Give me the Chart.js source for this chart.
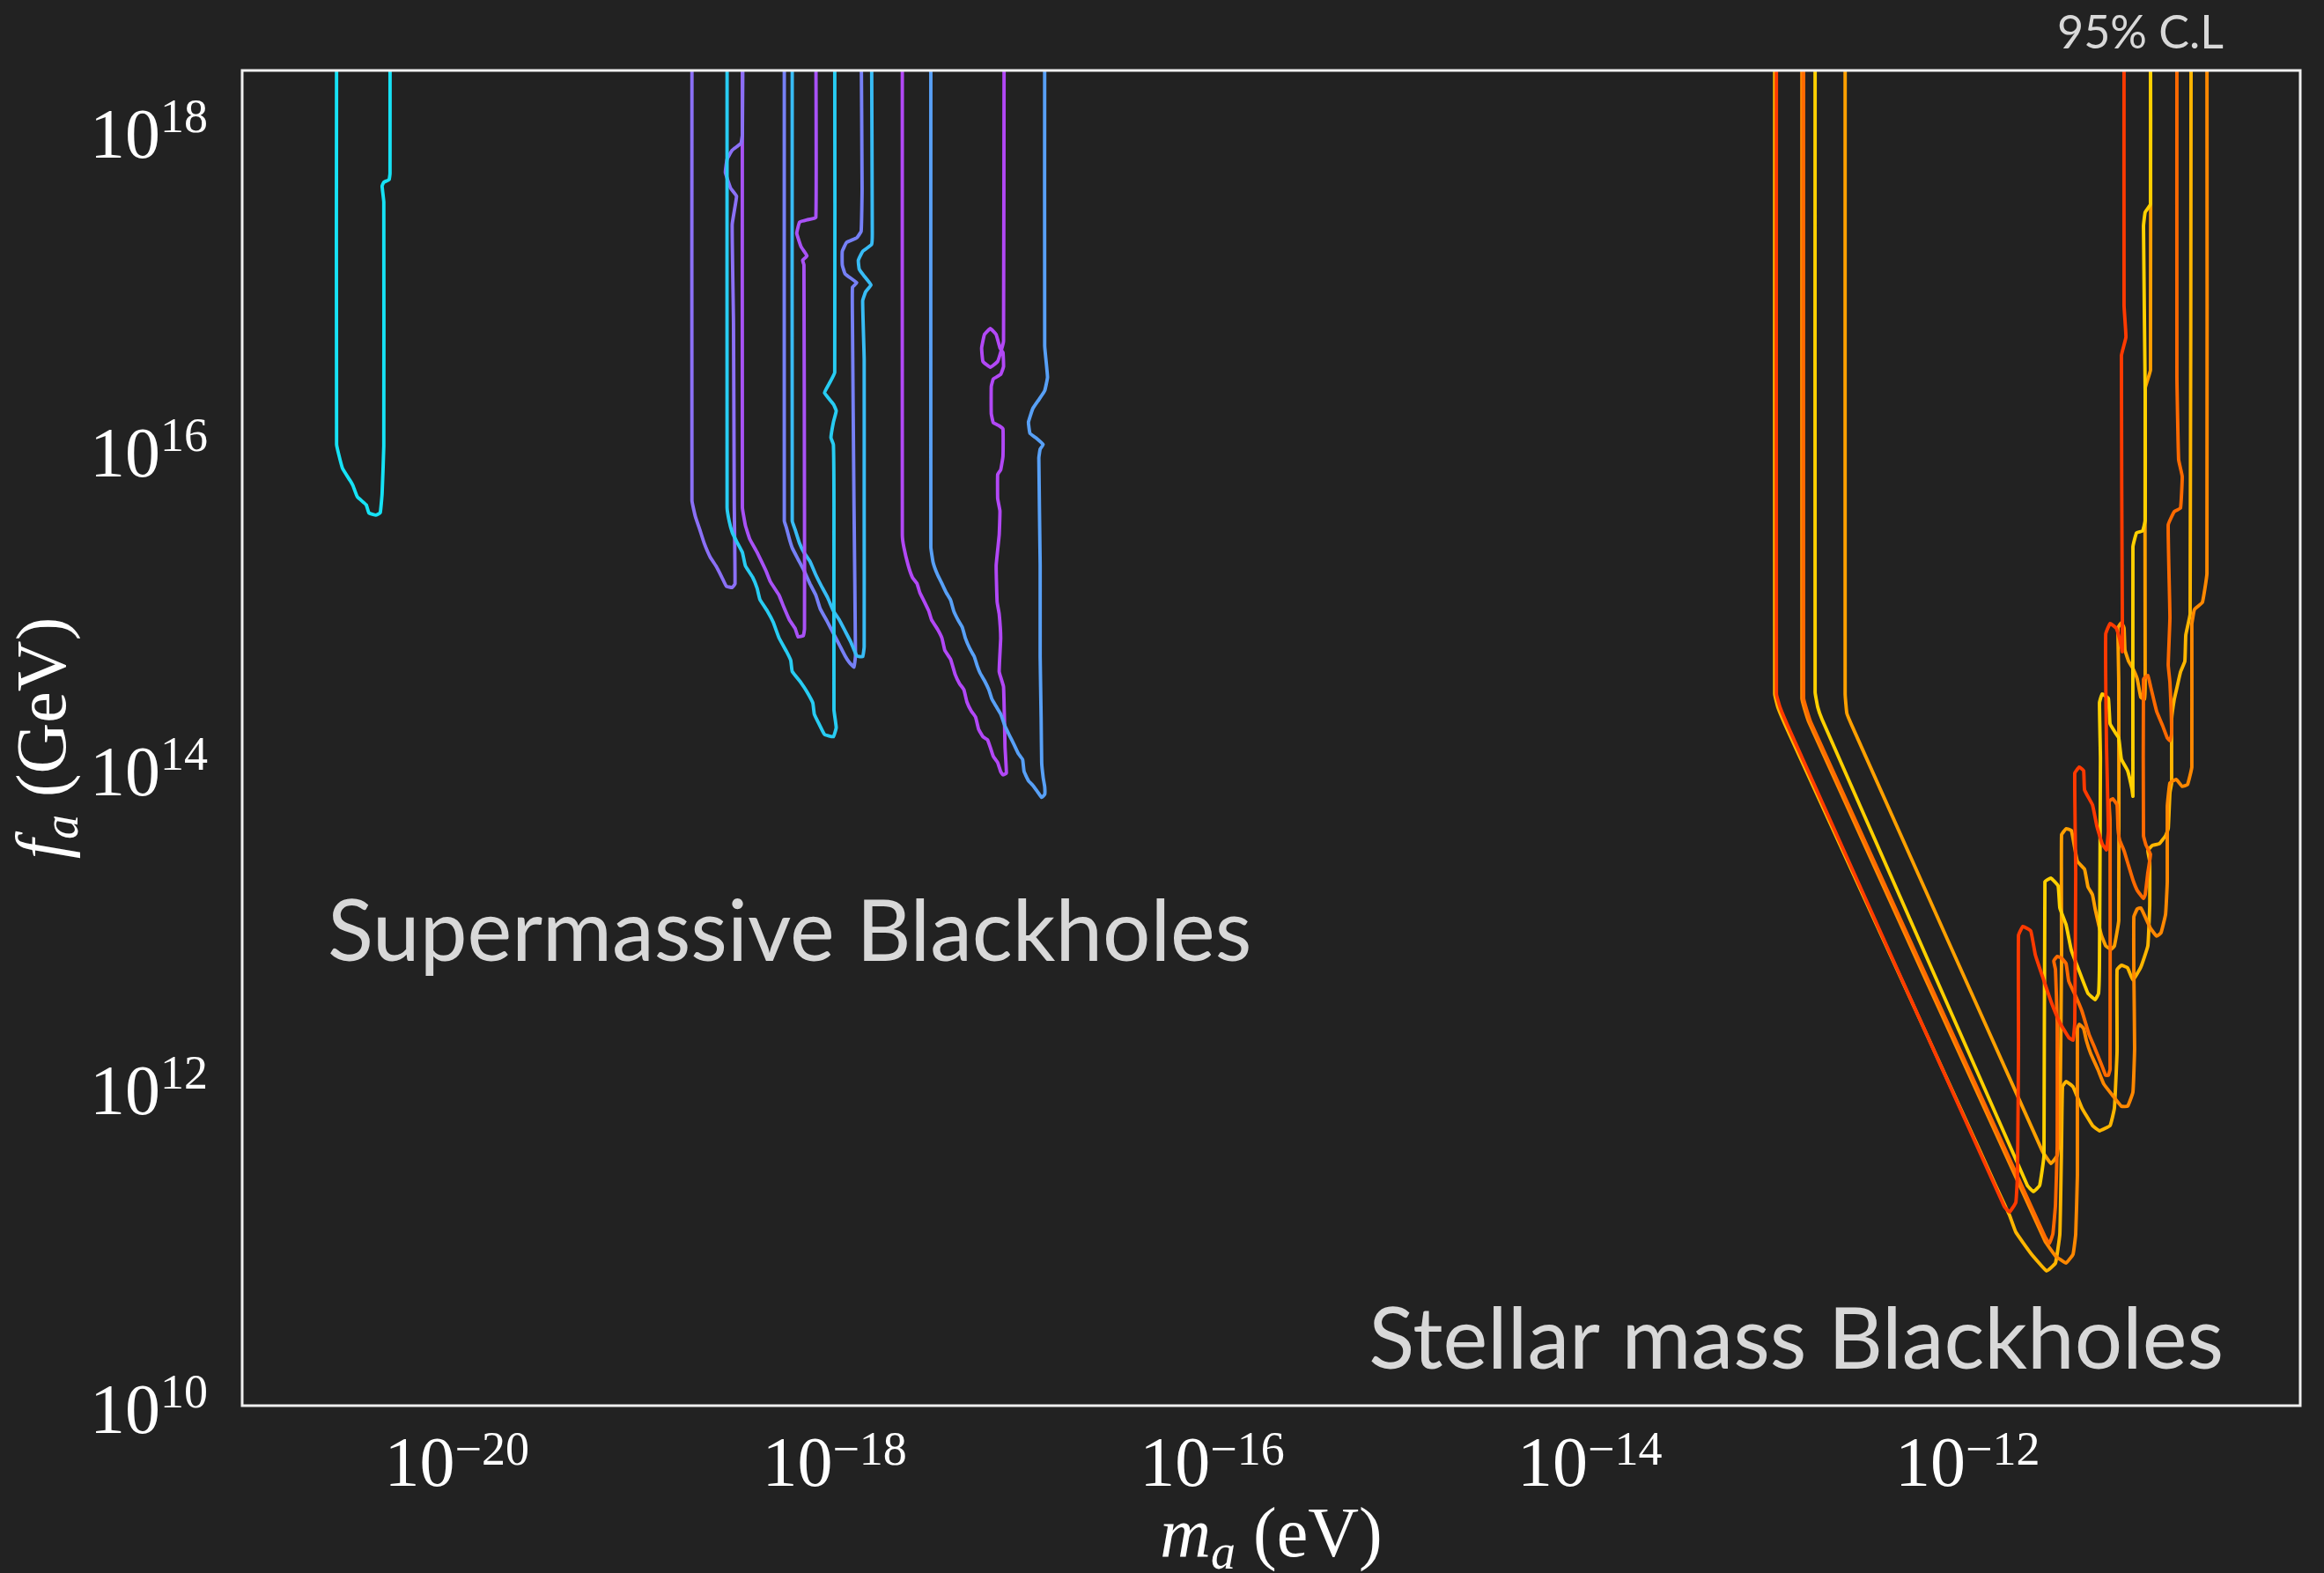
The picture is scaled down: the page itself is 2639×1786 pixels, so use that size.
<!DOCTYPE html>
<html>
<head>
<meta charset="utf-8">
<script src="https://cdn.jsdelivr.net/npm/chart.js@4.4.1/dist/chart.umd.min.js"></script>
<style>
  html, body { margin: 0; padding: 0; background: #222222; }
  canvas { display: block; }
</style>
</head>
<body>
<canvas id="chart" width="2639" height="1786"></canvas>
<script>
// tick positions, as powers of ten
const xTickExps = [-20, -18, -16, -14, -12];
const yTickExps = [10, 12, 14, 16, 18];
const xRange = [-21.137, -10.238];
const yRange = [10, 18.375];

// contour points: [log10 m_a (eV), log10 f_a (GeV)]
// supermassive black holes
const smCyan = [[-20.637, 18.6], [-20.637, 16.03], [-20.606, 15.88], [-20.564, 15.80], [-20.550, 15.77], [-20.527, 15.70], [-20.480, 15.65], [-20.466, 15.60], [-20.429, 15.586], [-20.406, 15.60], [-20.396, 15.72], [-20.387, 16.02], [-20.387, 17.55], [-20.396, 17.65], [-20.387, 17.674], [-20.359, 17.69], [-20.354, 17.73], [-20.354, 18.6]];
const smLilac = [[-18.755, 18.6], [-18.755, 15.676], [-18.737, 15.577], [-18.713, 15.493], [-18.690, 15.409], [-18.659, 15.324], [-18.628, 15.267], [-18.597, 15.197], [-18.573, 15.140], [-18.542, 15.132], [-18.527, 15.155], [-18.531, 15.663], [-18.535, 16.79], [-18.542, 17.409], [-18.519, 17.586], [-18.550, 17.636], [-18.578, 17.735], [-18.569, 17.818], [-18.542, 17.875], [-18.496, 17.917], [-18.488, 17.972], [-18.485, 18.6]];
const smPurple = [[-18.488, 18.6], [-18.488, 15.634], [-18.472, 15.521], [-18.449, 15.436], [-18.410, 15.352], [-18.364, 15.239], [-18.340, 15.169], [-18.294, 15.084], [-18.270, 15.013], [-18.239, 14.929], [-18.208, 14.873], [-18.193, 14.822], [-18.165, 14.83], [-18.159, 14.873], [-18.159, 15.6], [-18.162, 17.156], [-18.169, 17.184], [-18.146, 17.212], [-18.177, 17.269], [-18.200, 17.354], [-18.185, 17.424], [-18.146, 17.438], [-18.099, 17.452], [-18.099, 18.6]];
const smAqua = [[-18.569, 18.6], [-18.569, 15.634], [-18.558, 15.549], [-18.542, 15.479], [-18.519, 15.422], [-18.488, 15.352], [-18.472, 15.267], [-18.434, 15.197], [-18.410, 15.127], [-18.395, 15.056], [-18.356, 14.985], [-18.325, 14.915], [-18.294, 14.816], [-18.255, 14.732], [-18.232, 14.675], [-18.224, 14.605], [-18.177, 14.534], [-18.146, 14.478], [-18.115, 14.408], [-18.107, 14.337], [-18.084, 14.281], [-18.053, 14.210], [-18.006, 14.196], [-17.991, 14.253], [-18.003, 14.365], [-18.003, 15.662], [-18.006, 16.028], [-18.019, 16.071], [-18.006, 16.169], [-17.991, 16.240], [-18.006, 16.282], [-18.053, 16.353], [-18.029, 16.409], [-17.999, 16.480], [-17.999, 18.6]];
const smIndigo = [[-18.266, 18.6], [-18.266, 15.549], [-18.255, 15.507], [-18.239, 15.436], [-18.224, 15.380], [-18.193, 15.309], [-18.162, 15.239], [-18.130, 15.155], [-18.099, 15.084], [-18.076, 14.999], [-18.037, 14.915], [-18.006, 14.844], [-17.975, 14.774], [-17.944, 14.703], [-17.921, 14.661], [-17.897, 14.633], [-17.889, 14.703], [-17.897, 15.662], [-17.905, 16.790], [-17.905, 17.015], [-17.882, 17.043], [-17.944, 17.099], [-17.959, 17.156], [-17.959, 17.240], [-17.936, 17.297], [-17.882, 17.325], [-17.859, 17.367], [-17.854, 17.635], [-17.859, 18.6]];
const smSky = [[-18.224, 18.6], [-18.224, 15.549], [-18.208, 15.493], [-18.185, 15.408], [-18.162, 15.352], [-18.130, 15.296], [-18.099, 15.211], [-18.069, 15.140], [-18.037, 15.070], [-18.006, 14.985], [-17.975, 14.929], [-17.944, 14.859], [-17.913, 14.788], [-17.882, 14.703], [-17.851, 14.698], [-17.843, 14.760], [-17.843, 15.662], [-17.843, 16.564], [-17.851, 16.930], [-17.835, 16.987], [-17.807, 17.029], [-17.843, 17.085], [-17.869, 17.128], [-17.874, 17.184], [-17.851, 17.240], [-17.804, 17.283], [-17.800, 17.353], [-17.804, 18.6]];
const smViolet = [[-17.641, 18.6], [-17.641, 15.461], [-17.633, 15.385], [-17.610, 15.271], [-17.587, 15.194], [-17.563, 15.156], [-17.548, 15.099], [-17.524, 15.042], [-17.501, 14.985], [-17.486, 14.928], [-17.455, 14.871], [-17.431, 14.814], [-17.416, 14.738], [-17.385, 14.681], [-17.361, 14.586], [-17.338, 14.529], [-17.315, 14.491], [-17.299, 14.414], [-17.276, 14.357], [-17.253, 14.319], [-17.237, 14.243], [-17.214, 14.196], [-17.190, 14.177], [-17.175, 14.129], [-17.159, 14.072], [-17.136, 14.034], [-17.120, 13.977], [-17.108, 13.957], [-17.090, 13.967], [-17.097, 14.129], [-17.105, 14.509], [-17.128, 14.604], [-17.120, 14.814], [-17.128, 14.966], [-17.139, 15.042], [-17.144, 15.271], [-17.128, 15.461], [-17.124, 15.613], [-17.136, 15.689], [-17.136, 15.841], [-17.120, 15.870], [-17.108, 15.955], [-17.108, 16.127], [-17.128, 16.146], [-17.159, 16.165], [-17.170, 16.222], [-17.170, 16.393], [-17.159, 16.440], [-17.120, 16.469], [-17.105, 16.517], [-17.108, 16.606], [-17.124, 16.634], [-17.144, 16.719], [-17.175, 16.756], [-17.206, 16.719], [-17.221, 16.634], [-17.214, 16.550], [-17.175, 16.513], [-17.136, 16.550], [-17.117, 16.620], [-17.105, 16.677], [-17.102, 18.6]];
const smBlue = [[-17.490, 18.6], [-17.490, 15.385], [-17.478, 15.290], [-17.455, 15.213], [-17.431, 15.156], [-17.408, 15.099], [-17.385, 15.052], [-17.369, 14.985], [-17.346, 14.928], [-17.323, 14.881], [-17.307, 14.814], [-17.283, 14.747], [-17.260, 14.699], [-17.245, 14.643], [-17.229, 14.595], [-17.206, 14.548], [-17.183, 14.491], [-17.167, 14.433], [-17.144, 14.386], [-17.120, 14.338], [-17.097, 14.262], [-17.074, 14.205], [-17.050, 14.148], [-17.027, 14.091], [-17.004, 14.053], [-16.996, 13.977], [-16.973, 13.920], [-16.950, 13.891], [-16.926, 13.853], [-16.903, 13.815], [-16.887, 13.834], [-16.887, 13.882], [-16.895, 13.939], [-16.903, 14.034], [-16.906, 14.319], [-16.911, 14.699], [-16.911, 15.271], [-16.918, 15.944], [-16.911, 16.0], [-16.895, 16.028], [-16.934, 16.071], [-16.965, 16.099], [-16.973, 16.169], [-16.950, 16.254], [-16.918, 16.310], [-16.887, 16.366], [-16.872, 16.451], [-16.887, 16.649], [-16.887, 18.6]];

// stellar mass black holes
const stRed = [[-13.012, 18.6], [-13.012, 14.464], [-12.993, 14.381], [-12.942, 14.238], [-11.805, 11.249], [-11.777, 11.215], [-11.744, 11.276], [-11.735, 11.464], [-11.730, 12.265], [-11.730, 12.950], [-11.707, 13.006], [-11.665, 12.978], [-11.641, 12.829], [-11.604, 12.696], [-11.558, 12.536], [-11.511, 12.403], [-11.464, 12.309], [-11.441, 12.293], [-11.432, 12.403], [-11.427, 13.337], [-11.432, 13.967], [-11.408, 14.006], [-11.385, 13.983], [-11.380, 13.862], [-11.338, 13.768], [-11.315, 13.635], [-11.287, 13.525], [-11.264, 13.486], [-11.254, 13.608], [-11.264, 14.144], [-11.268, 14.840], [-11.245, 14.906], [-11.213, 14.878], [-11.194, 14.807], [-11.180, 14.729], [-11.180, 14.945], [-11.185, 16.586], [-11.161, 16.702], [-11.171, 16.901], [-11.171, 18.6]];
const stOrange = [[-12.868, 18.6], [-12.868, 14.436], [-12.853, 14.370], [-12.830, 14.287], [-11.590, 11.061], [-11.567, 11.017], [-11.548, 11.077], [-11.534, 11.260], [-11.525, 11.630], [-11.525, 12.403], [-11.534, 12.735], [-11.543, 12.790], [-11.525, 12.818], [-11.502, 12.807], [-11.478, 12.773], [-11.464, 12.663], [-11.427, 12.569], [-11.394, 12.475], [-11.357, 12.331], [-11.324, 12.238], [-11.292, 12.144], [-11.268, 12.072], [-11.254, 12.072], [-11.245, 12.110], [-11.245, 13.674], [-11.250, 13.790], [-11.231, 13.807], [-11.208, 13.768], [-11.203, 13.619], [-11.194, 13.547], [-11.171, 13.481], [-11.147, 13.387], [-11.124, 13.298], [-11.101, 13.232], [-11.068, 13.182], [-11.059, 13.204], [-11.045, 13.343], [-11.031, 13.459], [-11.054, 13.514], [-11.068, 13.575], [-11.068, 14.558], [-11.045, 14.580], [-11.031, 14.514], [-11.012, 14.420], [-10.998, 14.354], [-10.965, 14.260], [-10.942, 14.188], [-10.928, 14.171], [-10.919, 14.215], [-10.928, 14.536], [-10.937, 14.646], [-10.928, 14.945], [-10.937, 15.525], [-10.905, 15.608], [-10.872, 15.630], [-10.863, 15.829], [-10.882, 15.934], [-10.891, 16.453], [-10.891, 18.6]];
const stTangerine = [[-12.877, 18.6], [-12.877, 14.436], [-12.863, 14.370], [-12.840, 14.287], [-11.590, 11.033], [-11.534, 10.939], [-11.478, 10.895], [-11.441, 10.950], [-11.427, 11.077], [-11.418, 11.448], [-11.418, 12.365], [-11.408, 12.392], [-11.385, 12.365], [-11.371, 12.293], [-11.348, 12.210], [-11.310, 12.110], [-11.278, 12.017], [-11.231, 11.945], [-11.185, 11.878], [-11.152, 11.878], [-11.124, 11.967], [-11.115, 12.243], [-11.119, 12.702], [-11.119, 13.066], [-11.101, 13.116], [-11.082, 13.122], [-11.059, 13.066], [-11.031, 12.994], [-10.998, 12.945], [-10.975, 12.967], [-10.951, 13.083], [-10.942, 13.287], [-10.942, 13.757], [-10.928, 13.906], [-10.895, 13.928], [-10.863, 13.884], [-10.835, 13.895], [-10.812, 14.006], [-10.812, 14.901], [-10.798, 14.994], [-10.756, 15.039], [-10.732, 15.221], [-10.732, 18.6]];
const stAmber = [[-12.648, 18.6], [-12.648, 14.464], [-12.639, 14.343], [-12.606, 14.249], [-11.604, 11.597], [-11.558, 11.519], [-11.525, 11.569], [-11.511, 11.735], [-11.502, 12.801], [-11.502, 13.580], [-11.478, 13.619], [-11.450, 13.608], [-11.432, 13.497], [-11.418, 13.414], [-11.380, 13.365], [-11.362, 13.254], [-11.338, 13.204], [-11.324, 13.116], [-11.292, 12.956], [-11.268, 12.884], [-11.240, 12.862], [-11.222, 12.884], [-11.199, 13.044], [-11.199, 14.536], [-11.203, 14.878], [-11.185, 14.912], [-11.171, 14.878], [-11.166, 14.740], [-11.147, 14.669], [-11.124, 14.624], [-11.101, 14.558], [-11.082, 14.442], [-11.063, 14.431], [-11.059, 14.536], [-11.059, 16.381], [-11.031, 16.497], [-11.031, 18.6]];
const stGold = [[-13.021, 18.6], [-13.021, 14.464], [-13.003, 14.376], [-12.951, 14.232], [-11.944, 11.624], [-11.851, 11.381], [-11.777, 11.193], [-11.744, 11.088], [-11.665, 10.956], [-11.581, 10.845], [-11.534, 10.895], [-11.511, 11.077], [-11.502, 11.630], [-11.497, 12.000], [-11.478, 12.033], [-11.441, 12.000], [-11.394, 11.867], [-11.338, 11.757], [-11.301, 11.724], [-11.245, 11.757], [-11.222, 11.867], [-11.208, 12.221], [-11.208, 12.735], [-11.185, 12.762], [-11.152, 12.746], [-11.124, 12.669], [-11.082, 12.751], [-11.045, 12.884], [-11.035, 13.138], [-11.035, 13.414], [-11.045, 13.481], [-11.021, 13.514], [-10.984, 13.525], [-10.951, 13.575], [-10.937, 13.619], [-10.928, 13.845], [-10.919, 13.906], [-10.919, 14.304], [-10.905, 14.431], [-10.891, 14.503], [-10.872, 14.602], [-10.849, 14.669], [-10.844, 14.834], [-10.821, 14.967], [-10.816, 18.6]];
const stYellow = [[-12.807, 18.6], [-12.807, 14.475], [-12.793, 14.381], [-12.770, 14.304], [-11.683, 11.381], [-11.651, 11.343], [-11.618, 11.381], [-11.595, 11.569], [-11.590, 13.287], [-11.558, 13.309], [-11.520, 13.260], [-11.511, 13.122], [-11.478, 13.017], [-11.450, 12.856], [-11.408, 12.724], [-11.362, 12.586], [-11.324, 12.547], [-11.306, 12.586], [-11.301, 12.801], [-11.296, 14.061], [-11.301, 14.409], [-11.287, 14.464], [-11.254, 14.436], [-11.245, 14.276], [-11.217, 14.221], [-11.199, 14.188], [-11.185, 14.055], [-11.152, 13.983], [-11.129, 13.867], [-11.124, 13.823], [-11.124, 15.387], [-11.105, 15.475], [-11.073, 15.486], [-11.059, 15.552], [-11.059, 16.359], [-11.068, 17.398], [-11.059, 17.486], [-11.031, 17.536], [-11.031, 18.6]];

// first dataset is drawn on top
const contours = [
  { pts: stRed, color: 'rgb(255,58,0)' },
  { pts: stOrange, color: 'rgb(255,106,0)' },
  { pts: stYellow, color: 'rgb(255,208,0)' },
  { pts: stAmber, color: 'rgb(255,160,0)' },
  { pts: stTangerine, color: 'rgb(255,136,0)' },
  { pts: stGold, color: 'rgb(255,182,0)' },
  { pts: smCyan, color: 'rgb(22,226,245)' },
  { pts: smAqua, color: 'rgb(40,204,242)' },
  { pts: smLilac, color: 'rgb(139,112,246)' },
  { pts: smPurple, color: 'rgb(168,82,246)' },
  { pts: smSky, color: 'rgb(56,188,245)' },
  { pts: smIndigo, color: 'rgb(118,128,246)' },
  { pts: smBlue, color: 'rgb(88,160,246)' },
  { pts: smViolet, color: 'rgb(178,72,246)' }
];

const datasets = contours.map(c => ({
  data: c.pts.map(([m, f]) => ({ x: Math.pow(10, m), y: Math.pow(10, f) })),
  borderColor: c.color,
  borderWidth: 3.9,
  showLine: true,
  fill: false,
  pointRadius: 0,
  tension: 0.1,
  borderJoinStyle: 'round',
  borderCapStyle: 'round'
}));

const SERIF = '"Liberation Serif", "DejaVu Serif", serif';
const SANS = 'Lato, "Noto Sans", sans-serif';

const drawPow = (ctx, exp, x, baseY, supY, align) => {
  const sup = (exp < 0 ? '\u2212' : '') + Math.abs(exp);
  ctx.font = '80px ' + SERIF;
  const w1 = ctx.measureText('10').width;
  ctx.font = '54px ' + SERIF;
  const w2 = ctx.measureText(sup).width;
  const x0 = align === 'right' ? x - w1 - w2 : x - (w1 + w2) / 2;
  ctx.font = '80px ' + SERIF;
  ctx.fillText('10', x0, baseY);
  ctx.font = '54px ' + SERIF;
  ctx.fillText(sup, x0 + w1, supY);
};

const drawTitle = (ctx, main, sub, rest) => {
  ctx.font = 'italic 80px ' + SERIF;
  const w1 = ctx.measureText(main).width;
  ctx.font = 'italic 56px ' + SERIF;
  const w2 = ctx.measureText(sub).width;
  ctx.font = '80px ' + SERIF;
  const w3 = ctx.measureText(rest).width;
  let x = -(w1 + w2 + w3) / 2;
  ctx.font = 'italic 80px ' + SERIF;
  ctx.fillText(main, x, 0);
  x += w1;
  ctx.font = 'italic 56px ' + SERIF;
  ctx.fillText(sub, x, 14);
  x += w2;
  ctx.font = '80px ' + SERIF;
  ctx.fillText(rest, x, 0);
};

const background = {
  id: 'background',
  beforeDraw(chart) {
    const ctx = chart.ctx;
    ctx.save();
    ctx.fillStyle = '#222222';
    ctx.fillRect(0, 0, chart.width, chart.height);
    ctx.restore();
  }
};

const decorations = {
  id: 'decorations',
  afterDraw(chart) {
    const ctx = chart.ctx;
    const { left, right, top, bottom } = chart.chartArea;
    const xs = chart.scales.x, ys = chart.scales.y;
    ctx.save();
    ctx.strokeStyle = '#f0f0f0';
    ctx.lineWidth = 3;
    ctx.strokeRect(left, top, right - left, bottom - top);

    ctx.fillStyle = '#ffffff';
    ctx.textAlign = 'left';
    ctx.textBaseline = 'alphabetic';
    xTickExps.forEach(e => {
      drawPow(ctx, e, xs.getPixelForValue(Math.pow(10, e)), bottom + 91, bottom + 67, 'center');
    });
    yTickExps.forEach(e => {
      const y = ys.getPixelForValue(Math.pow(10, e));
      drawPow(ctx, e, left - 39, y + 31, y + 2, 'right');
    });

    ctx.save();
    ctx.translate((left + right) / 2, 1767);
    drawTitle(ctx, 'm', 'a', ' (eV)');
    ctx.restore();
    ctx.save();
    ctx.translate(74, (top + bottom) / 2);
    ctx.rotate(-Math.PI / 2);
    drawTitle(ctx, 'f', 'a', ' (GeV)');
    ctx.restore();

    ctx.fillStyle = '#d8d8d8';
    ctx.font = '96px ' + SANS;
    ctx.textAlign = 'left';
    ctx.fillText('Supermassive Blackholes', 372, 1091);
    ctx.textAlign = 'right';
    ctx.fillText('Stellar mass Blackholes', 2525, 1554);
    ctx.font = '52px ' + SANS;
    ctx.fillText('95% C.L', 2525, 55);
    ctx.restore();
  }
};

new Chart(document.getElementById('chart'), {
  type: 'scatter',
  data: { datasets },
  options: {
    responsive: false,
    animation: false,
    devicePixelRatio: 1,
    layout: { padding: { left: 275, top: 80, right: 27, bottom: 190 } },
    plugins: { legend: { display: false }, tooltip: { enabled: false } },
    scales: {
      x: { type: 'logarithmic', display: false, min: Math.pow(10, xRange[0]), max: Math.pow(10, xRange[1]) },
      y: { type: 'logarithmic', display: false, min: Math.pow(10, yRange[0]), max: Math.pow(10, yRange[1]) }
    }
  },
  plugins: [background, decorations]
});
</script>
</body>
</html>
